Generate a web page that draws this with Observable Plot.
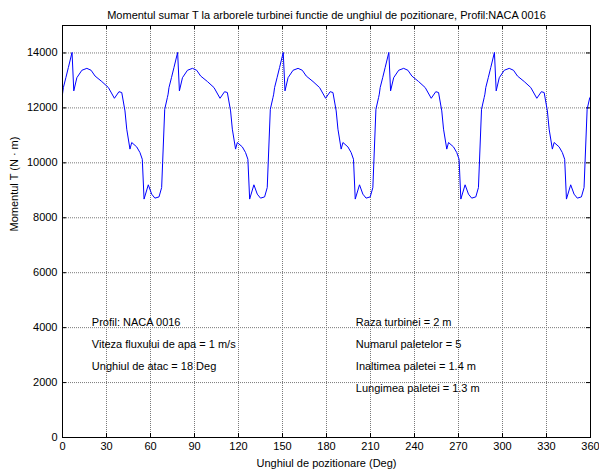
<!DOCTYPE html>
<html>
<head>
<meta charset="utf-8">
<script src="https://cdn.jsdelivr.net/npm/d3@7"></script>
<script src="https://cdn.jsdelivr.net/npm/@observablehq/plot@0.6"></script>
<style>
  html, body { margin: 0; padding: 0; background: white; }
  svg { display: block; }
</style>
</head>
<body>
<div id="chart"></div>
<script>
// Angle (deg) of each sample, one row per blade passage
const angle = [
  0, 0.6, 2.3, 4.0, 6.5, 7.7, 9.8, 13.2, 16.6, 19.5, 22.2, 26.8, 31.3, 35.4, 38.5, 40.4, 42.6, 43.8, 46.0, 47.2, 50.6, 52.8, 54.4, 55.6, 58.5, 60.8, 63.0, 65.8, 67.6, 69.7, 71.5,
  72, 72.6, 74.3, 76.0, 78.5, 79.7, 81.8, 85.2, 88.6, 91.5, 94.2, 98.8, 103.3, 107.4, 110.5, 112.4, 114.6, 115.8, 118.0, 119.2, 122.6, 124.8, 126.4, 127.6, 130.5, 132.8, 135.0, 137.8, 139.6, 141.7, 143.5,
  144, 144.6, 146.3, 148.0, 150.5, 151.7, 153.8, 157.2, 160.6, 163.5, 166.2, 170.8, 175.3, 179.4, 182.5, 184.4, 186.6, 187.8, 190.0, 191.2, 194.6, 196.8, 198.4, 199.6, 202.5, 204.8, 207.0, 209.8, 211.6, 213.7, 215.5,
  216, 216.6, 218.3, 220.0, 222.5, 223.7, 225.8, 229.2, 232.6, 235.5, 238.2, 242.8, 247.3, 251.4, 254.5, 256.4, 258.6, 259.8, 262.0, 263.2, 266.6, 268.8, 270.4, 271.6, 274.5, 276.8, 279.0, 281.8, 283.6, 285.7, 287.5,
  288, 288.6, 290.3, 292.0, 294.5, 295.7, 297.8, 301.2, 304.6, 307.5, 310.2, 314.8, 319.3, 323.4, 326.5, 328.4, 330.6, 331.8, 334.0, 335.2, 338.6, 340.8, 342.4, 343.6, 346.5, 348.8, 351.0, 353.8, 355.6, 357.7, 359.5,
  360
];
// Torque T (N·m) at each sample
const torque = [
  12500, 12740, 13100, 13470, 14020, 12620, 13100, 13370, 13440, 13370, 13160, 12960, 12740, 12350, 12590, 12560, 11890, 11225, 10500, 10740, 10580, 10375, 10130, 8680, 9200, 8860, 8715, 8760, 9100, 11950, 12375,
  12500, 12740, 13100, 13470, 14020, 12620, 13100, 13370, 13440, 13370, 13160, 12960, 12740, 12350, 12590, 12560, 11890, 11225, 10500, 10740, 10580, 10375, 10130, 8680, 9200, 8860, 8715, 8760, 9100, 11950, 12375,
  12500, 12740, 13100, 13470, 14020, 12620, 13100, 13370, 13440, 13370, 13160, 12960, 12740, 12350, 12590, 12560, 11890, 11225, 10500, 10740, 10580, 10375, 10130, 8680, 9200, 8860, 8715, 8760, 9100, 11950, 12375,
  12500, 12740, 13100, 13470, 14020, 12620, 13100, 13370, 13440, 13370, 13160, 12960, 12740, 12350, 12590, 12560, 11890, 11225, 10500, 10740, 10580, 10375, 10130, 8680, 9200, 8860, 8715, 8760, 9100, 11950, 12375,
  12500, 12740, 13100, 13470, 14020, 12620, 13100, 13370, 13440, 13370, 13160, 12960, 12740, 12350, 12590, 12560, 11890, 11225, 10500, 10740, 10580, 10375, 10130, 8680, 9200, 8860, 8715, 8760, 9100, 11950, 12375,
  12350
];

const xTicks = [0, 30, 60, 90, 120, 150, 180, 210, 240, 270, 300, 330, 360];
const yTicks = [0, 2000, 4000, 6000, 8000, 10000, 12000, 14000];
const gridX = [30, 60, 90, 120, 150, 180, 210, 240, 270, 300, 330];
const gridY = [2000, 4000, 6000, 8000, 10000, 12000, 14000];

const titleText = "Momentul sumar T la arborele turbinei functie de unghiul de pozitionare, Profil:NACA 0016";
const xLabel = "Unghiul de pozitionare (Deg)";
const yLabel = "Momentul T (N \u00B7 m)";

const noteText = [
  "Profil: NACA 0016",
  "Viteza fluxului de apa = 1 m/s",
  "Unghiul de atac = 18 Deg",
  "Raza turbinei = 2 m",
  "Numarul paletelor = 5",
  "Inaltimea paletei = 1.4 m",
  "Lungimea paletei = 1.3 m"
];
const noteX = [20, 20, 20, 200, 200, 200, 200];
const noteY = [4200, 3400, 2600, 4200, 3400, 2600, 1800];

const series = angle.map((a, i) => ({angle: a, torque: torque[i]}));
const notes = noteText.map((t, i) => ({text: t, x: noteX[i], y: noteY[i]}));

const W = 599, H = 470;
const mL = 62, mR = 9, mT = 25, mB = 33;
const plotW = W - mL - mR, plotH = H - mT - mB;
const tickLen = 4;

const chart = Plot.plot({
  width: W,
  height: H,
  marginLeft: mL,
  marginRight: mR,
  marginTop: mT,
  marginBottom: mB,
  style: {
    fontFamily: "'Liberation Sans', Arial, Helvetica, sans-serif",
    fontSize: "11px",
    color: "black",
    background: "white",
    overflow: "visible"
  },
  x: {domain: [0, 360], ticks: xTicks},
  y: {domain: [0, 15000], ticks: yTicks},
  marks: [
    // dotted grid
    Plot.ruleX(gridX, {x: d => d, stroke: "#7a7a7a", strokeDasharray: "1,1"}),
    Plot.ruleY(gridY, {y: d => d, stroke: "#7a7a7a", strokeDasharray: "1,1"}),
    // inward ticks on all four sides
    Plot.tickX(xTicks, {x: d => d, insetTop: plotH - tickLen, stroke: "black"}),
    Plot.tickX(xTicks, {x: d => d, insetBottom: plotH - tickLen, stroke: "black"}),
    Plot.tickY(yTicks, {y: d => d, insetRight: plotW - tickLen, stroke: "black"}),
    Plot.tickY(yTicks, {y: d => d, insetLeft: plotW - tickLen, stroke: "black"}),
    // axes labels only
    Plot.axisX(xTicks, {tickSize: 0, tickPadding: 5, label: null, fontSize: 11, tickFormat: d3.format("d")}),
    Plot.axisY(yTicks, {tickSize: 0, tickPadding: 5, label: null, fontSize: 11, tickFormat: d3.format("d")}),
    // data line
    Plot.line(series, {x: "angle", y: "torque", stroke: "#0000ff", strokeWidth: 1}),
    // annotations
    Plot.text(notes, {x: "x", y: "y", text: "text", textAnchor: "start", lineAnchor: "middle", fontSize: 11, fill: "black"}),
    // frame
    Plot.frame({stroke: "black", strokeWidth: 1}),
    // title and axis titles
    Plot.text([titleText], {frameAnchor: "top", dy: -10, text: d => d, fontSize: 11, lineAnchor: "middle", fill: "black"}),
    Plot.text([xLabel], {frameAnchor: "bottom", dy: 26, text: d => d, fontSize: 11, lineAnchor: "middle", fill: "black"}),
    Plot.text([yLabel], {frameAnchor: "left", dx: -48, rotate: -90, text: d => d, fontSize: 11, lineAnchor: "middle", fill: "black"})
  ]
});

document.getElementById("chart").appendChild(chart);
</script>
</body>
</html>
